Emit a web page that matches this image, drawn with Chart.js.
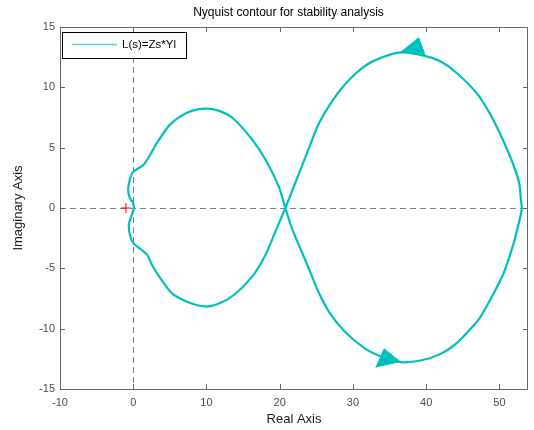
<!DOCTYPE html>
<html>
<head>
<meta charset="utf-8">
<script src="https://cdn.jsdelivr.net/npm/chart.js@4.4.1/dist/chart.umd.min.js"></script>
<style>
html,body{margin:0;padding:0;background:#fff;}
#wrap{width:534px;height:430px;}
</style>
</head>
<body>
<div id="wrap"><canvas id="c" width="534" height="430"></canvas></div>
<script>
// ---- data ----
const chartTitle = "Nyquist contour for stability analysis";
const xLabel = "Real Axis";
const yLabel = "Imaginary Axis";
const seriesLabel = "L(s)=Zs*Yl";

const xTicks = [-10, 0, 10, 20, 30, 40, 50];
const yTicks = [-15, -10, -5, 0, 5, 10, 15];
const xRange = [-10, 53.9];
const yRange = [-15, 15];

// Nyquist contour, real parts
const contourRe = [
  20.77, 22.12, 23.91, 25.26, 26.84, 28.87, 31.56, 33.81, 36.50, 39.66,
  41.90, 44.16, 46.86, 48.65, 50.46, 51.81, 52.70, 52.93, 53.06,
  52.90, 52.70, 52.02, 50.67, 49.11, 47.30, 45.95, 44.16, 41.90, 39.20,
  36.50, 33.81, 31.56, 28.87, 26.84, 25.26, 24.14, 22.79, 21.66, 20.77,
  19.86, 18.07, 16.26, 13.56, 11.54, 9.74, 7.27, 5.02, 3.23, 2.32,
  1.42, 0.07, -0.38, -0.70, -0.47, -0.01, 0.07, -0.28, -0.61, -0.38,
  0.07, 0.97, 1.88, 2.55, 3.67, 5.25, 7.27, 9.74, 11.54, 13.79,
  16.26, 18.07, 19.42, 20.77
];
// Nyquist contour, imaginary parts
const contourIm = [
  0.00, 2.07, 4.83, 6.90, 8.57, 10.22, 11.74, 12.44, 12.90, 12.63,
  12.16, 11.19, 9.54, 7.88, 5.66, 3.73, 2.07, 0.69, 0.00,
  -0.60, -1.11, -2.77, -5.26, -7.19, -9.12, -10.09, -11.19, -12.11, -12.64,
  -12.77, -12.30, -11.61, -10.23, -8.71, -6.92, -5.26, -3.32, -1.66, 0.00,
  1.79, 4.00, 5.66, 7.46, 8.09, 8.23, 7.88, 6.91, 5.39, 4.42,
  3.59, 3.03, 2.55, 1.52, 0.83, 0.41, -0.06, -0.70, -1.45, -2.40,
  -2.95, -3.40, -3.87, -4.70, -5.80, -7.05, -7.74, -8.16, -7.96, -7.19,
  -5.67, -3.87, -1.94, 0.00
];
// direction arrows (triangle vertices)
const arrowTopRe = [36.50, 38.98, 39.87];
const arrowTopIm = [12.90, 14.10, 12.64];
const arrowBotRe = [33.13, 34.26, 36.50];
const arrowBotIm = [-13.22, -11.67, -12.77];
// critical point
const critRe = [-1];
const critIm = [0];

// ---- styles ----
const CYAN = 'rgb(0,191,191)';
const FONT = "'Liberation Sans', Arial, sans-serif";
const AXIS_COL = 'rgb(102,102,102)';
const TICK_TXT = 'rgb(77,77,77)';

const pts = (xs, ys) => xs.map((x, i) => ({x: x, y: ys[i]}));

const matlabPlugin = {
  id: 'matlab',
  beforeDatasetsDraw(chart) {
    const {ctx, chartArea: a, scales: {x, y}} = chart;
    ctx.save();
    ctx.strokeStyle = 'rgb(128,128,128)';
    ctx.lineWidth = 1;
    ctx.setLineDash([6, 4]);
    const x0 = Math.round(x.getPixelForValue(0)) + 0.5;
    const y0 = Math.round(y.getPixelForValue(0)) + 0.5;
    ctx.beginPath();
    ctx.moveTo(a.left, y0); ctx.lineTo(a.right, y0);
    ctx.moveTo(x0, a.top); ctx.lineTo(x0, a.bottom);
    ctx.stroke();
    ctx.restore();
  },
  afterDraw(chart) {
    const {ctx, chartArea: a, scales: {x, y}} = chart;
    ctx.save();
    // box
    ctx.strokeStyle = AXIS_COL;
    ctx.lineWidth = 1;
    ctx.strokeRect(Math.round(a.left) + 0.5, Math.round(a.top) + 0.5,
      Math.round(a.right - a.left) - 1, Math.round(a.bottom - a.top));
    // inward ticks
    ctx.beginPath();
    const tl = 5;
    xTicks.forEach(v => {
      const px = Math.round(x.getPixelForValue(v)) + 0.5;
      ctx.moveTo(px, a.bottom); ctx.lineTo(px, a.bottom - tl);
      ctx.moveTo(px, a.top); ctx.lineTo(px, a.top + tl);
    });
    yTicks.forEach(v => {
      const py = Math.round(y.getPixelForValue(v)) + 0.5;
      ctx.moveTo(a.left, py); ctx.lineTo(a.left + tl, py);
      ctx.moveTo(a.right, py); ctx.lineTo(a.right - tl, py);
    });
    ctx.stroke();
    // title
    ctx.fillStyle = '#000';
    ctx.font = '12px ' + FONT;
    ctx.textAlign = 'center';
    ctx.textBaseline = 'middle';
    ctx.fillText(chartTitle, 288.5, 13);
    // legend
    const bx = 62.5, by = 32.5, bw = 124, bh = 26;
    ctx.fillStyle = '#fff';
    ctx.fillRect(bx, by, bw, bh);
    ctx.strokeStyle = '#000';
    ctx.lineWidth = 1;
    ctx.strokeRect(bx, by, bw, bh);
    ctx.strokeStyle = 'rgb(80,210,210)';
    ctx.lineWidth = 1.5;
    ctx.beginPath();
    ctx.moveTo(72, by + 12); ctx.lineTo(117, by + 12);
    ctx.stroke();
    ctx.fillStyle = '#000';
    ctx.textAlign = 'left';
    ctx.font = '11.5px ' + FONT;
    ctx.fillText(chart.data.datasets[0].label, 122, by + 12.5);
    ctx.restore();
  }
};

new Chart(document.getElementById('c'), {
  type: 'scatter',
  data: {
    datasets: [
      {
        label: seriesLabel,
        data: pts(contourRe, contourIm),
        showLine: true,
        borderColor: CYAN,
        borderWidth: 2.2,
        pointRadius: 0,
        tension: 0.25,
        fill: false
      },
      {
        label: 'arrowTop',
        data: pts(arrowTopRe, arrowTopIm),
        showLine: true,
        borderColor: CYAN,
        backgroundColor: CYAN,
        borderWidth: 1,
        pointRadius: 0,
        fill: 'shape'
      },
      {
        label: 'arrowBot',
        data: pts(arrowBotRe, arrowBotIm),
        showLine: true,
        borderColor: CYAN,
        backgroundColor: CYAN,
        borderWidth: 1,
        pointRadius: 0,
        fill: 'shape'
      },
      {
        label: 'crit',
        data: pts(critRe, critIm),
        pointStyle: 'cross',
        pointRadius: 5,
        borderColor: 'rgb(255,0,0)',
        borderWidth: 1,
        showLine: false
      }
    ]
  },
  options: {
    responsive: false,
    animation: false,
    layout: {padding: {top: 27, right: 2, left: 0, bottom: 0}},
    plugins: {
      legend: {display: false},
      tooltip: {enabled: false},
      title: {display: false}
    },
    scales: {
      x: {
        type: 'linear',
        min: xRange[0], max: xRange[1],
        afterFit(s) { s.height = 41; },
        afterBuildTicks(s) { s.ticks = xTicks.map(v => ({value: v})); },
        grid: {display: false, drawTicks: false},
        border: {display: false},
        ticks: {color: TICK_TXT, font: {family: FONT, size: 11}, padding: 7, maxRotation: 0, autoSkip: false},
        title: {display: true, text: xLabel, color: '#1a1a1a', font: {family: FONT, size: 13}, padding: {top: 0, bottom: 3}}
      },
      y: {
        type: 'linear',
        min: yRange[0], max: yRange[1],
        afterFit(s) { s.width = 60; },
        afterBuildTicks(s) { s.ticks = yTicks.map(v => ({value: v})); },
        grid: {display: false, drawTicks: false},
        border: {display: false},
        ticks: {color: TICK_TXT, font: {family: FONT, size: 11}, padding: 5, autoSkip: false},
        title: {display: true, text: yLabel, color: '#1a1a1a', font: {family: FONT, size: 13}, padding: {top: 11, bottom: 0}}
      }
    }
  },
  plugins: [matlabPlugin]
});
</script>
</body>
</html>
